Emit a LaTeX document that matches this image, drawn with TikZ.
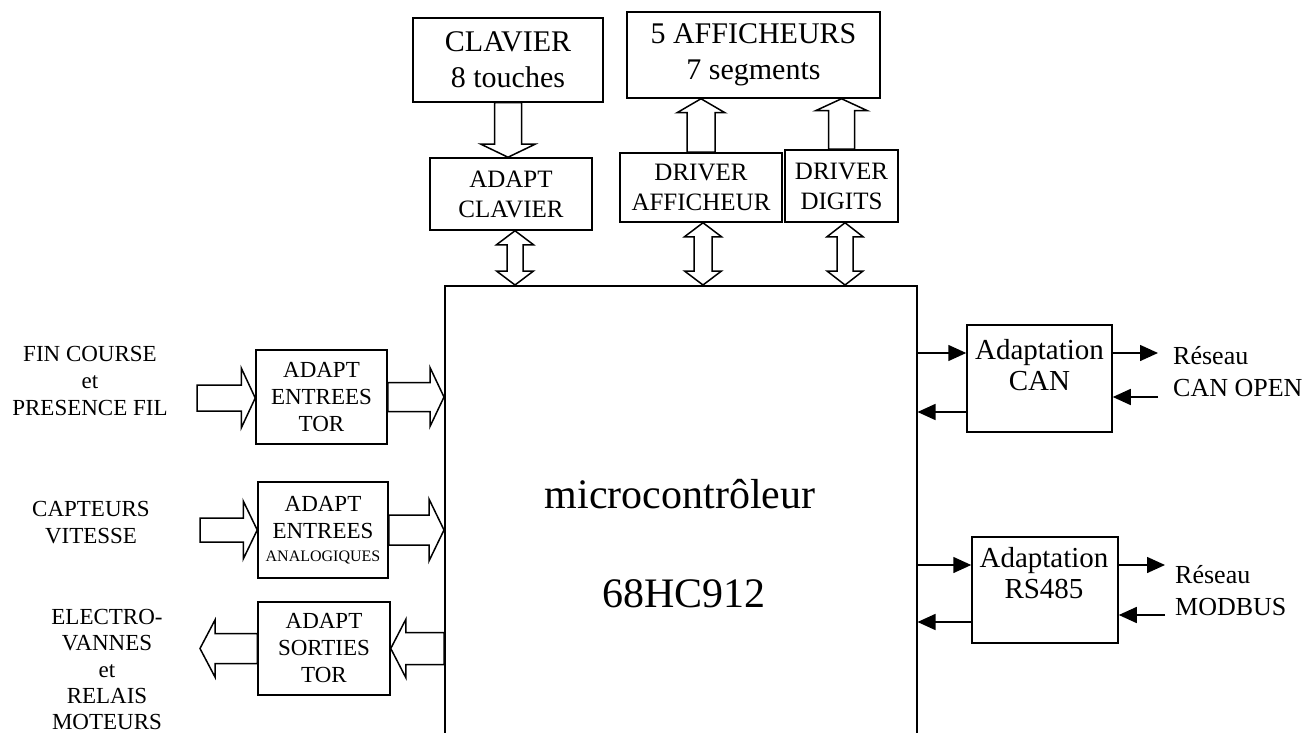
\documentclass[tikz,border=0pt]{standalone}
\usepackage{fontspec}
\setmainfont{Liberation Serif}
\usetikzlibrary{calc,arrows.meta}
\newcommand\fszTop{\fontsize{30}{36}\selectfont}
\newcommand\fszMid{\fontsize{25}{30}\selectfont}
\newcommand\fszSide{\fontsize{23}{27}\selectfont}
\newcommand\fszAd{\fontsize{29}{31}\selectfont}
\newcommand\fszNet{\fontsize{26}{32}\selectfont}
\newcommand\fszBig{\fontsize{42}{48}\selectfont}
\newcommand\BAP[2]{({\x1+\n2*(#1)-\n3*(#2)},{\y1+\n3*(#1)+\n2*(#2)})}
\tikzset{
  ba w/.store in=\baw, ba H/.store in=\baH, ba h/.store in=\bah,
  ba w=13, ba H=28, ba h=13,
  box/.style={draw, line width=1.5pt, inner sep=0pt, align=center},
  txt/.style={inner sep=0pt, align=center},
  blk/.style={draw, line width=1.5pt, line join=miter},
  blockarrow/.style={to path={let \p1=(\tikztostart), \p2=(\tikztotarget),
      \n1={veclen(\x2-\x1,\y2-\y1)}, \n2={(\x2-\x1)/\n1}, \n3={(\y2-\y1)/\n1} in
      \BAP{0}{\baw} -- \BAP{\n1-\bah}{\baw} -- \BAP{\n1-\bah}{\baH} -- \BAP{\n1}{0}
      -- \BAP{\n1-\bah}{-\baH} -- \BAP{\n1-\bah}{-\baw} -- \BAP{0}{-\baw} -- cycle}},
  dblarrow/.style={to path={let \p1=(\tikztostart), \p2=(\tikztotarget),
      \n1={veclen(\x2-\x1,\y2-\y1)}, \n2={(\x2-\x1)/\n1}, \n3={(\y2-\y1)/\n1} in
      \BAP{0}{0} -- \BAP{\bah}{\baH} -- \BAP{\bah}{\baw} -- \BAP{\n1-\bah}{\baw}
      -- \BAP{\n1-\bah}{\baH} -- \BAP{\n1}{0} -- \BAP{\n1-\bah}{-\baH}
      -- \BAP{\n1-\bah}{-\baw} -- \BAP{\bah}{-\baw} -- \BAP{\bah}{-\baH} -- cycle}},
  fa/.style={draw, line width=1.5pt, -{Triangle[length=18pt,width=16pt]}},
}
\begin{document}
\begin{tikzpicture}[x=1pt,y=-1pt]
\useasboundingbox (0,0) rectangle (1315,733);
% top boxes
\node[box, minimum width=190pt, minimum height=84pt, font=\fszTop] (clav) at (508,60) {CLAVIER\\8 touches};
\node[box, minimum width=253pt, minimum height=86pt, font=\fszTop] (aff) at (753.5,55) {5 AFFICHEURS\\7 segments};
\node[box, minimum width=162pt, minimum height=72pt, font=\fszMid] (adclav) at (511,194) {ADAPT\\CLAVIER};
\node[box, minimum width=162pt, minimum height=69pt, font=\fszMid] (drvaff) at (701,187.5) {DRIVER\\AFFICHEUR};
\node[box, minimum width=113pt, minimum height=72pt, font=\fszMid] (drvdig) at (841.5,186) {DRIVER\\DIGITS};
% microcontroller
\node[box, anchor=north west, minimum width=472pt, minimum height=470pt] (mcu) at (444,285) {};
\node[txt, anchor=base, font=\fszBig] (mcuT1) at (680,508) {microcontrôleur};
\node[txt, anchor=base, font=\fszBig] (mcuT2) at (684,607) {68HC912};
% left boxes
\node[box, minimum width=131pt, minimum height=94pt, font=\fszSide] (tor) at (321.5,397) {ADAPT\\ENTREES\\TOR};
\node[box, minimum width=130pt, minimum height=96pt, font=\fszSide] (ana) at (323,530) {ADAPT\\ENTREES\\[-4pt]{\fontsize{16}{18}\selectfont ANALOGIQUES}};
\node[box, minimum width=132pt, minimum height=93pt, font=\fszSide] (sor) at (324,648.5) {ADAPT\\SORTIES\\TOR};
% left labels
\node[txt, anchor=north, font=\fszSide] (lab1) at (90,346) {FIN COURSE\\et\\PRESENCE FIL};
\node[txt, anchor=north, font=\fszSide] (lab2) at (91,501) {CAPTEURS\\VITESSE};
\node[txt, anchor=north, font=\fontsize{23}{26.3}\selectfont] (lab3) at (107,609) {ELECTRO-\\VANNES\\et\\RELAIS\\MOTEURS};
% right boxes
\node[box, minimum width=145pt, minimum height=107pt] (can) at (1039.5,378.5) {};
\node[txt, anchor=north, font=\fszAd] (canT) at (1039.5,339) {Adaptation\\CAN};
\node[box, minimum width=146pt, minimum height=106pt] (rs) at (1045,590) {};
\node[txt, anchor=north, font=\fszAd] (rsT) at (1044,547) {Adaptation\\RS485};
\node[txt, anchor=north west, align=left, font=\fszNet] (net1) at (1173,346) {Réseau\\CAN OPEN};
\node[txt, anchor=north west, align=left, font=\fszNet] (net2) at (1175,565) {Réseau\\MODBUS};
% top hollow arrows
\draw[blk, ba w=13.5, ba H=27, ba h=13] (clav.south) to[blockarrow] (clav.south |- adclav.north);
\draw[blk, ba w=14, ba H=24, ba h=14] (drvaff.north) to[blockarrow] (drvaff.north |- aff.south);
\draw[blk, ba w=13, ba H=26, ba h=12] (drvdig.north) to[blockarrow] (drvdig.north |- aff.south);
\coordinate (d1) at ($(adclav.south)+(4,0)$);
\coordinate (d2) at ($(drvaff.south)+(2,0)$);
\coordinate (d3) at ($(drvdig.south)+(3.5,0)$);
\draw[blk, ba w=8, ba H=18.5, ba h=14] (d1) to[dblarrow] (d1 |- mcu.north);
\draw[blk, ba w=9, ba H=18.5, ba h=14] (d2) to[dblarrow] (d2 |- mcu.north);
\draw[blk, ba w=8, ba H=18, ba h=14] (d3) to[dblarrow] (d3 |- mcu.north);
% left hollow arrows
\coordinate (finL) at (197,398);
\coordinate (capL) at (200,530);
\coordinate (sorL) at (200,0);
\draw[blk, ba w=13, ba H=30, ba h=14] (finL) to[blockarrow] (finL -| tor.west);
\draw[blk, ba w=14.5, ba H=29.5, ba h=14] (tor.east) to[blockarrow] (tor.east -| mcu.west);
\draw[blk, ba w=12, ba H=29, ba h=14] (capL) to[blockarrow] (capL -| ana.west);
\draw[blk, ba w=15, ba H=31, ba h=15] (ana.east) to[blockarrow] (ana.east -| mcu.west);
\draw[blk, ba w=16, ba H=29, ba h=15] (sor.east -| mcu.west) to[blockarrow] (sor.east);
\draw[blk, ba w=15, ba H=28.5, ba h=15] (sor.west) to[blockarrow] (sor.west -| sorL);
% right filled arrows
\coordinate (canR) at (1158,0);
\coordinate (rsR) at (1165,0);
\coordinate (canA) at ($(can.west)+(0,-25.5)$);
\coordinate (canB) at ($(can.west)+(0,33.5)$);
\coordinate (canC) at ($(can.east)+(0,-25.5)$);
\coordinate (canD) at ($(can.east)+(0,18.5)$);
\draw[fa] (canA -| mcu.east) -- (canA);
\draw[fa] (canB) -- (canB -| mcu.east);
\draw[fa] (canC) -- (canC -| canR);
\draw[fa] (canD -| canR) -- (canD);
\coordinate (rsA) at ($(rs.west)+(0,-25)$);
\coordinate (rsB) at ($(rs.west)+(0,32)$);
\coordinate (rsC) at ($(rs.east)+(0,-25)$);
\coordinate (rsD) at ($(rs.east)+(0,25)$);
\draw[fa] (rsA -| mcu.east) -- (rsA);
\draw[fa] (rsB) -- (rsB -| mcu.east);
\draw[fa] (rsC) -- (rsC -| rsR);
\draw[fa] (rsD -| rsR) -- (rsD);
\end{tikzpicture}
\end{document}
